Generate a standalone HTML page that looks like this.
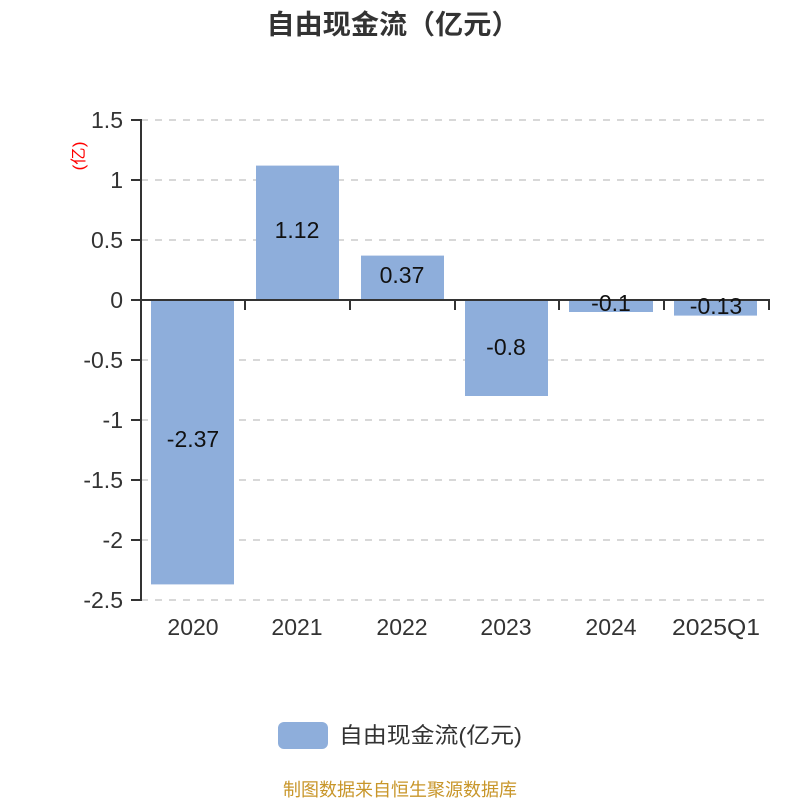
<!DOCTYPE html>
<html><head><meta charset="utf-8"><style>
body{margin:0;background:#fff}
svg text{font-family:"Liberation Sans","Noto Sans CJK SC",sans-serif}
</style></head><body>
<svg width="800" height="800" viewBox="0 0 800 800" xmlns="http://www.w3.org/2000/svg">
<rect width="800" height="800" fill="#fff"/>
<text x="393" y="34" text-anchor="middle" font-size="27" font-weight="bold" fill="#333" textLength="253" lengthAdjust="spacingAndGlyphs">自由现金流（亿元）</text>
<text transform="translate(84,156) rotate(-90)" text-anchor="middle" font-size="16" fill="#f00" textLength="29" lengthAdjust="spacingAndGlyphs">(亿)</text>
<g stroke="#ccc" stroke-width="1.5" stroke-dasharray="7,7">
<line x1="141" y1="120" x2="770" y2="120"/>
<line x1="141" y1="180" x2="770" y2="180"/>
<line x1="141" y1="240" x2="770" y2="240"/>
<line x1="141" y1="360" x2="770" y2="360"/>
<line x1="141" y1="420" x2="770" y2="420"/>
<line x1="141" y1="480" x2="770" y2="480"/>
<line x1="141" y1="540" x2="770" y2="540"/>
<line x1="141" y1="600" x2="770" y2="600"/>
</g>
<g fill="#8eaedb">
<rect x="151" y="300" width="83" height="284.4"/>
<rect x="256" y="165.6" width="83" height="134.4"/>
<rect x="361" y="255.6" width="83" height="44.4"/>
<rect x="465" y="300" width="83" height="96"/>
<rect x="569" y="300" width="84" height="12"/>
<rect x="674" y="300" width="83" height="15.6"/>
</g>
<g stroke="#333" stroke-width="2" fill="none">
<line x1="141" y1="119" x2="141" y2="601"/>
<line x1="140" y1="300" x2="770" y2="300"/>
<path d="M131 120H141M131 180H141M131 240H141M131 300H141M131 360H141M131 420H141M131 480H141M131 540H141M131 600H141"/>
<path d="M245 300V310M350 300V310M455 300V310M559 300V310M664 300V310M769 300V310"/>
</g>
<g font-size="23" fill="#333" text-anchor="end">
<text x="123" y="128">1.5</text>
<text x="123" y="188">1</text>
<text x="123" y="248">0.5</text>
<text x="123" y="308">0</text>
<text x="123" y="368">-0.5</text>
<text x="123" y="428">-1</text>
<text x="123" y="488">-1.5</text>
<text x="123" y="548">-2</text>
<text x="123" y="608">-2.5</text>
</g>
<g font-size="23" fill="#333" text-anchor="middle">
<text x="193" y="635">2020</text>
<text x="297" y="635">2021</text>
<text x="402" y="635">2022</text>
<text x="506" y="635">2023</text>
<text x="611" y="635">2024</text>
<text x="716" y="635" textLength="88" lengthAdjust="spacingAndGlyphs">2025Q1</text>
</g>
<g font-size="23" fill="#111" text-anchor="middle">
<text x="193" y="447">-2.37</text>
<text x="297" y="238">1.12</text>
<text x="402" y="283">0.37</text>
<text x="506" y="355">-0.8</text>
<text x="611" y="311">-0.1</text>
<text x="716" y="314">-0.13</text>
</g>
<rect x="278" y="722" width="50" height="27" rx="6" fill="#8eaedb"/>
<text x="339" y="743" font-size="22" fill="#333" textLength="183" lengthAdjust="spacingAndGlyphs">自由现金流(亿元)</text>
<text x="400" y="796" text-anchor="middle" font-size="18" fill="#c8962a" textLength="234" lengthAdjust="spacingAndGlyphs">制图数据来自恒生聚源数据库</text>
</svg>
</body></html>
